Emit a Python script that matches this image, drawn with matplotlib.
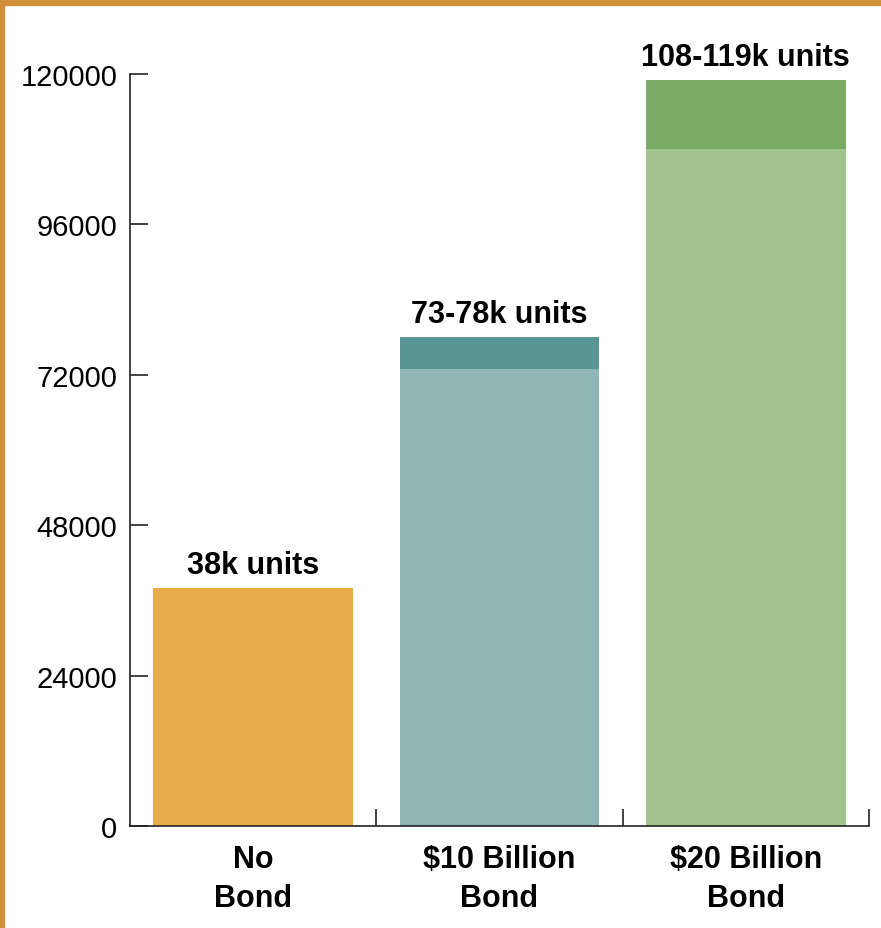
import matplotlib
matplotlib.use("Agg")
import matplotlib.pyplot as plt
from matplotlib.patches import Rectangle
import numpy as np

# datos
categories = ["No\nBond", "$10 Billion\nBond", "$20 Billion\nBond"]
low_values = [38000, 73000, 108000]
high_values = [38000, 78000, 119000]
bar_labels = ["38k units", "73-78k units", "108-119k units"]
yticks = [0, 24000, 48000, 72000, 96000, 120000]

light_colors = ["#E8AD4A", "#8DB6B4", "#A1C48F"]
dark_colors = ["#E8AD4A", "#5A9694", "#7BAC65"]

FONT = ["Liberation Sans", "DejaVu Sans"]

W, H = 881, 929
fig = plt.figure(figsize=(W / 100, H / 100), dpi=100)
ax = fig.add_axes([130 / W, 1 - 827 / H, (869 - 130) / W, (827 - 75) / H])

x = np.arange(len(categories))
width = 0.81
# parte baja (clara) y parte alta (oscura)
ax.bar(x, low_values, width=width, color=light_colors, zorder=2)
extra = [h - l for h, l in zip(high_values, low_values)]
ax.bar(x, extra, width=width, bottom=low_values, color=dark_colors, zorder=2)

for xi, top, lab in zip(x, high_values, bar_labels):
    ax.annotate(lab, (xi, top), xytext=(0, 6), textcoords="offset points",
                ha="center", va="bottom", fontsize=22, fontweight="bold",
                family=FONT)

ax.set_xlim(-0.5, 2.5)
ax.set_ylim(0, 120000)
ax.set_yticks(yticks)
ax.set_yticklabels([str(t) for t in yticks], family=FONT, fontsize=21)
ax.tick_params(axis="y", direction="in", length=13, width=1.2, pad=9, colors="#222222",
               labelcolor="black")

# ticks del eje x en los limites de categorias
ax.set_xticks([0.5, 1.5, 2.5])
ax.set_xticklabels([])
ax.tick_params(axis="x", direction="in", length=12, width=1.2, colors="#222222")
ax.set_xticks(x, minor=True)
ax.set_xticklabels(categories, minor=True, fontsize=22, fontweight="bold",
                   family=FONT, linespacing=1.4)
ax.tick_params(axis="x", which="minor", length=0, pad=13)

for s in ["top", "right"]:
    ax.spines[s].set_visible(False)
for s in ["left", "bottom"]:
    ax.spines[s].set_linewidth(1.2)
    ax.spines[s].set_color("#222222")

# marco dorado
border = "#D0903A"
fig.add_artist(Rectangle((0, 1 - 6 / H), 1, 6 / H, transform=fig.transFigure,
                         color=border, zorder=10))
fig.add_artist(Rectangle((0, 0), 4 / W, 1, transform=fig.transFigure,
                         color=border, zorder=10))

fig.savefig("out.png", dpi=100)
